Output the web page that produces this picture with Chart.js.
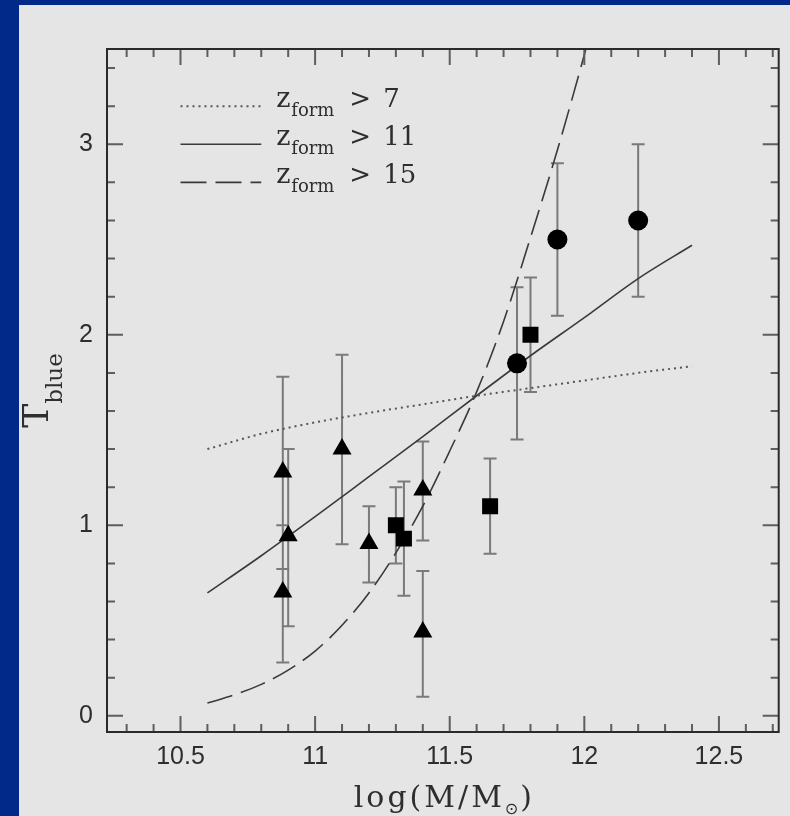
<!DOCTYPE html>
<html>
<head>
<meta charset="utf-8">
<script src="https://cdn.jsdelivr.net/npm/chart.js@4.4.1/dist/chart.umd.min.js"></script>
<style>
  html, body { margin: 0; padding: 0; }
  body { width: 790px; height: 816px; background: #00298a; position: relative; overflow: hidden; }
  #panel { position: absolute; left: 19px; top: 5px; right: 0; bottom: 0; background: #e5e5e5; }
  #tblueChart { position: absolute; left: 0; top: 0; }
</style>
</head>
<body>
<div id="panel"></div>
<canvas id="tblueChart" width="790" height="816"></canvas>
<script>
"use strict";

// axis ranges and ticks
const X_MIN = 10.227;
const X_MAX = 12.722;
const Y_MIN = -0.085;
const Y_MAX = 3.5;

const xMajorTicks = [10.5, 11, 11.5, 12, 12.5];
const xMinorTicks = [10.3, 10.4, 10.6, 10.7, 10.8, 10.9, 11.1, 11.2, 11.3, 11.4,
  11.6, 11.7, 11.8, 11.9, 12.1, 12.2, 12.3, 12.4, 12.6, 12.7];
const yMajorTicks = [0, 1, 2, 3];
const yMinorTicks = [0.2, 0.4, 0.6, 0.8, 1.2, 1.4, 1.6, 1.8, 2.2, 2.4, 2.6, 2.8, 3.2, 3.4];

// observed points: log mass, T_blue, error bar low / high
const triMass = [10.88, 10.88, 10.90, 11.10, 11.20, 11.40, 11.40];
const triT    = [1.28, 0.65, 0.945, 1.40, 0.905, 1.185, 0.44];
const triLo   = [0.77, 0.28, 0.47, 0.90, 0.70, 0.92, 0.10];
const triHi   = [1.78, 1.00, 1.40, 1.895, 1.10, 1.44, 0.76];

const sqMass = [11.30, 11.33, 11.65, 11.80];
const sqT    = [1.00, 0.93, 1.10, 2.00];
const sqLo   = [0.80, 0.63, 0.85, 1.70];
const sqHi   = [1.20, 1.23, 1.35, 2.30];

const circMass = [11.75, 11.90, 12.20];
const circT    = [1.85, 2.50, 2.60];
const circLo   = [1.45, 2.10, 2.20];
const circHi   = [2.25, 2.90, 3.00];

// model curves
const curveMass = [10.6, 10.8, 11.0, 11.2, 11.4, 11.6, 11.8, 12.0, 12.2, 12.4];
const tZ7  = [1.40, 1.48, 1.54, 1.59, 1.635, 1.68, 1.72, 1.76, 1.80, 1.835];
const tZ11 = [0.645, 0.84, 1.045, 1.255, 1.465, 1.68, 1.89, 2.09, 2.295, 2.47];

const dashMass = [10.6, 10.7, 10.8, 10.9, 11.0, 11.1, 11.2, 11.3, 11.4, 11.5, 11.6, 11.7, 11.8, 11.9, 12.0, 12.1];
const tZ15 = [0.067, 0.11, 0.165, 0.24, 0.34, 0.475, 0.645, 0.855, 1.10, 1.39, 1.70, 2.07, 2.51, 2.97, 3.47, 4.0];

// legend rows: label number, line style, position in data units
const legendNumbers = ["7", "11", "15"];
const legendY = [3.2, 3.0, 2.8];
const legendX = [10.5, 10.8];

const LINE_COLOR = "#3a3a3a";
const DOT_COLOR = "#555";
const DASH_STYLES = [[2, 4], [], [26, 9]];
const TEXT_COLOR = "#2e2e2e";
const SERIF = "'DejaVu Serif', serif";

const pts = (xs, ys) => xs.map((x, i) => ({ x, y: ys[i] }));

const errorBars = {
  id: "errorBars",
  beforeDatasetsDraw(chart) {
    const { ctx, scales: { x, y } } = chart;
    const groups = [
      [triMass, triLo, triHi],
      [sqMass, sqLo, sqHi],
      [circMass, circLo, circHi]
    ];
    ctx.save();
    ctx.strokeStyle = "#7a7a7a";
    ctx.lineWidth = 2;
    ctx.beginPath();
    groups.forEach(([mass, lo, hi]) => {
      mass.forEach((m, i) => {
        const px = x.getPixelForValue(m);
        const top = y.getPixelForValue(hi[i]);
        const bot = y.getPixelForValue(lo[i]);
        ctx.moveTo(px, top);
        ctx.lineTo(px, bot);
        ctx.moveTo(px - 6.5, top);
        ctx.lineTo(px + 6.5, top);
        ctx.moveTo(px - 6.5, bot);
        ctx.lineTo(px + 6.5, bot);
      });
    });
    ctx.stroke();
    ctx.restore();
  }
};

const frameTicks = {
  id: "frameTicks",
  afterDatasetsDraw(chart) {
    const { ctx, chartArea: a, scales: { x, y } } = chart;
    ctx.save();
    ctx.strokeStyle = "#5e5e5e";
    ctx.lineWidth = 2;
    ctx.beginPath();
    const xTick = (v, len) => {
      const px = x.getPixelForValue(v);
      ctx.moveTo(px, a.bottom);
      ctx.lineTo(px, a.bottom - len);
      ctx.moveTo(px, a.top);
      ctx.lineTo(px, a.top + len);
    };
    const yTick = (v, len) => {
      const py = y.getPixelForValue(v);
      ctx.moveTo(a.left, py);
      ctx.lineTo(a.left + len, py);
      ctx.moveTo(a.right, py);
      ctx.lineTo(a.right - len, py);
    };
    xMinorTicks.forEach(v => xTick(v, 8));
    xMajorTicks.forEach(v => xTick(v, 16));
    yMinorTicks.forEach(v => yTick(v, 8));
    yMajorTicks.forEach(v => yTick(v, 16));
    ctx.stroke();

    ctx.strokeStyle = "#2a2a2a";
    ctx.lineWidth = 2;
    ctx.strokeRect(a.left, a.top, a.right - a.left, a.bottom - a.top);
    ctx.restore();
  }
};

const labelsAndLegend = {
  id: "labelsAndLegend",
  afterDraw(chart) {
    const { ctx, chartArea: a, scales: { x, y } } = chart;
    ctx.save();
    ctx.fillStyle = TEXT_COLOR;
    ctx.textBaseline = "alphabetic";
    ctx.textAlign = "left";

    // legend
    const x0 = x.getPixelForValue(legendX[0]);
    const x1 = x.getPixelForValue(legendX[1]);
    legendNumbers.forEach((num, i) => {
      const py = y.getPixelForValue(legendY[i]);
      ctx.save();
      ctx.strokeStyle = i === 0 ? DOT_COLOR : LINE_COLOR;
      ctx.lineWidth = i === 0 ? 2 : 1.6;
      ctx.setLineDash(DASH_STYLES[i]);
      ctx.beginPath();
      ctx.moveTo(x0, py);
      ctx.lineTo(x1, py);
      ctx.stroke();
      ctx.restore();

      const tx = x1 + 15;
      ctx.font = `27px ${SERIF}`;
      ctx.fillText("z", tx, py + 1);
      ctx.font = `18px ${SERIF}`;
      ctx.fillText("form", tx + 15, py + 10);
      ctx.font = `26px ${SERIF}`;
      ctx.fillText(">", tx + 73, py + 1);
      ctx.fillText(num, tx + 107, py + 1);
    });

    // x title: log(M/M_sun)
    const cx = (a.left + a.right) / 2;
    ctx.font = `30px ${SERIF}`;
    ctx.letterSpacing = "3px";
    const partA = "log(M/M";
    const wA = ctx.measureText(partA).width;
    ctx.letterSpacing = "0px";
    ctx.font = "16px 'DejaVu Sans', sans-serif";
    const wSun = ctx.measureText("\u2299").width;
    ctx.font = `30px ${SERIF}`;
    const wC = ctx.measureText(")").width;
    let sx = cx - (wA + wSun + 2 + wC) / 2;
    ctx.letterSpacing = "3px";
    ctx.fillText(partA, sx, 807);
    ctx.letterSpacing = "0px";
    sx += wA;
    ctx.font = "16px 'DejaVu Sans', sans-serif";
    ctx.fillText("\u2299", sx, 814);
    sx += wSun + 2;
    ctx.font = `30px ${SERIF}`;
    ctx.fillText(")", sx, 807);

    // y title: T_blue, rotated
    const cy = (a.top + a.bottom) / 2;
    ctx.font = `36px ${SERIF}`;
    const wT = ctx.measureText("T").width;
    ctx.font = `23px ${SERIF}`;
    const wBlue = ctx.measureText("blue").width;
    ctx.translate(48, cy + (wT + wBlue) / 2);
    ctx.rotate(-Math.PI / 2);
    ctx.font = `36px ${SERIF}`;
    ctx.fillText("T", 0, 0);
    ctx.font = `23px ${SERIF}`;
    ctx.fillText("blue", wT, 14);
    ctx.restore();
  }
};

const ctx = document.getElementById("tblueChart").getContext("2d");

new Chart(ctx, {
  type: "scatter",
  data: {
    datasets: [
      {
        label: "circles",
        data: pts(circMass, circT),
        pointStyle: "circle",
        pointRadius: 10,
        backgroundColor: "#000",
        borderColor: "#000",
        borderWidth: 0
      },
      {
        label: "squares",
        data: pts(sqMass, sqT),
        pointStyle: "rect",
        pointRadius: 11.3,
        backgroundColor: "#000",
        borderColor: "#000",
        borderWidth: 0
      },
      {
        label: "triangles",
        data: pts(triMass, triT),
        pointStyle: "triangle",
        pointRadius: 11,
        backgroundColor: "#000",
        borderColor: "#000",
        borderWidth: 0
      },
      {
        label: "z_form > 7",
        data: pts(curveMass, tZ7),
        showLine: true,
        pointRadius: 0,
        borderColor: DOT_COLOR,
        borderWidth: 2,
        borderDash: DASH_STYLES[0],
        cubicInterpolationMode: "monotone"
      },
      {
        label: "z_form > 11",
        data: pts(curveMass, tZ11),
        showLine: true,
        pointRadius: 0,
        borderColor: LINE_COLOR,
        borderWidth: 1.6,
        cubicInterpolationMode: "monotone"
      },
      {
        label: "z_form > 15",
        data: pts(dashMass, tZ15),
        showLine: true,
        pointRadius: 0,
        borderColor: LINE_COLOR,
        borderWidth: 1.6,
        borderDash: DASH_STYLES[2],
        cubicInterpolationMode: "monotone"
      }
    ]
  },
  options: {
    responsive: false,
    animation: false,
    events: [],
    layout: { padding: { top: 49, right: 2, left: 0, bottom: 0 } },
    plugins: {
      legend: { display: false },
      tooltip: { enabled: false }
    },
    scales: {
      x: {
        type: "linear",
        min: X_MIN,
        max: X_MAX,
        afterBuildTicks: s => { s.ticks = xMajorTicks.map(v => ({ value: v })); },
        afterFit: s => { s.height = 84; },
        grid: { display: false, drawTicks: false },
        border: { display: false },
        ticks: {
          autoSkip: false,
          maxRotation: 0,
          padding: 10,
          color: TEXT_COLOR,
          font: { family: "Liberation Sans", size: 25 },
          callback: v => String(v)
        }
      },
      y: {
        type: "linear",
        min: Y_MIN,
        max: Y_MAX,
        afterBuildTicks: s => { s.ticks = yMajorTicks.map(v => ({ value: v })); },
        afterFit: s => { s.width = 107; },
        grid: { display: false, drawTicks: false },
        border: { display: false },
        ticks: {
          autoSkip: false,
          padding: 14,
          color: TEXT_COLOR,
          font: { family: "Liberation Sans", size: 25 },
          callback: v => String(v)
        }
      }
    }
  },
  plugins: [errorBars, frameTicks, labelsAndLegend]
});
</script>
</body>
</html>
